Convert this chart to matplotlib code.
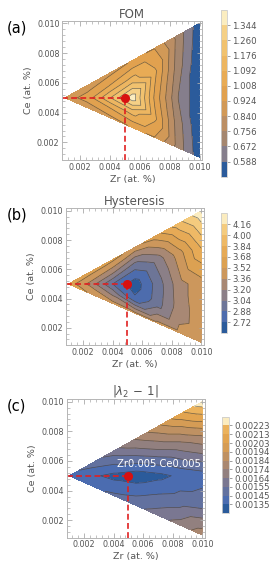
import numpy as np
import matplotlib
matplotlib.use("Agg")
import matplotlib.pyplot as plt
import matplotlib.tri as mtri
from matplotlib.colors import ListedColormap, BoundaryNorm
from matplotlib.ticker import MultipleLocator, FormatStrFormatter

# node compositions (Zr, Ce): tip + 6 columns of 5 rows (top, mid-top, centre, mid-bottom, bottom)
zr_nodes = [0.001] + [0.0025] * 5 + [0.004] * 5 + [0.0055] * 5 + [0.007] * 5 + [0.0085] * 5 + [0.010] * 5
ce_nodes = [0.005,
            0.005833, 0.005417, 0.005, 0.004667, 0.004333,
            0.006667, 0.005833, 0.005, 0.004333, 0.003667,
            0.0075, 0.00625, 0.005, 0.004, 0.003,
            0.008333, 0.006667, 0.005, 0.003667, 0.002333,
            0.009167, 0.007083, 0.005, 0.003333, 0.001667,
            0.010, 0.0075, 0.005, 0.003, 0.001]

fom = [0.88,
       0.89, 0.92, 0.96, 0.92, 0.89,
       0.90, 1.01, 1.17, 1.01, 0.90,
       0.93, 1.12, 1.40, 1.12, 0.93,
       0.92, 1.03, 0.99, 1.03, 0.92,
       0.73, 0.72, 0.68, 0.72, 0.73,
       0.53, 0.51, 0.51, 0.51, 0.53]

hyst = [3.62,
        3.58, 3.45, 3.30, 3.42, 3.50,
        3.56, 3.25, 2.88, 3.15, 3.42,
        3.47, 2.95, 2.63, 2.75, 3.40,
        3.62, 3.10, 2.94, 2.96, 3.40,
        3.95, 3.45, 3.30, 3.28, 3.40,
        4.30, 3.85, 3.45, 3.45, 3.46]

lam = [0.00141,
       0.00150, 0.00143, 0.00137, 0.00139, 0.00142,
       0.00160, 0.00146, 0.00132, 0.00139, 0.00147,
       0.00175, 0.00153, 0.00129, 0.00141, 0.00152,
       0.00192, 0.00162, 0.00132, 0.00146, 0.00160,
       0.00210, 0.00170, 0.00137, 0.00150, 0.00168,
       0.00230, 0.00180, 0.00140, 0.00152, 0.00180]

fom_levels = [0.504, 0.588, 0.672, 0.756, 0.840, 0.924, 1.008, 1.092, 1.176, 1.260, 1.344, 1.428]
hyst_levels = [2.56, 2.72, 2.88, 3.04, 3.20, 3.36, 3.52, 3.68, 3.84, 4.00, 4.16, 4.32]
lam_levels = [0.00125, 0.00135, 0.00145, 0.00155, 0.00164, 0.00174, 0.00184,
              0.00194, 0.00203, 0.00213, 0.00223, 0.00233]

titles = ["FOM", "Hysteresis", r"$|\lambda_2\,-\,1|$"]
tags = ["(a)", "(b)", "(c)"]
best = (0.005, 0.005)

band_colors = [
    ["#2b5b9b", "#857e8c", "#a4866f", "#bb8e64", "#d19957", "#e1a14f",
     "#e8ab55", "#edb661", "#f1c26f", "#f5d086", "#fbedc0"],
    ["#2b5b9b", "#4d6cad", "#6d7597", "#8b7f87", "#a88874", "#cc975c",
     "#dca152", "#e6aa56", "#eeb966", "#f4cb7e", "#fbecbf"],
    ["#2b5b9b", "#4b6cb0", "#62719f", "#7a7791", "#92807f", "#a98770",
     "#bf9162", "#d59c55", "#e2a450", "#ebb25c", "#fbecc0"],
]

# triangles: fan at the tip, then quads split symmetric about the centre line
triangles = [[0, 1 + r, 2 + r] for r in range(4)]
for c in range(5):
    for r in range(4):
        a, b = 1 + 5 * c + r, 1 + 5 * c + r + 1
        a2, b2 = a + 5, b + 5
        if r < 2:
            triangles += [[a, b, a2], [b, b2, a2]]
        else:
            triangles += [[a, b, b2], [a, b2, a2]]
tri = mtri.Triangulation(zr_nodes, ce_nodes, triangles)

fig = plt.figure(figsize=(2.74, 5.71), dpi=100)
ax_pos = [[0.2274, 0.7198, 0.511, 0.2440],
          [0.2398, 0.3958, 0.5047, 0.2394],
          [0.2434, 0.0583, 0.5047, 0.2429]]
cb_pos = [[0.8055, 0.6905, 0.0241, 0.2919],
          [0.8055, 0.4163, 0.0241, 0.2102],
          [0.8091, 0.1011, 0.0277, 0.1692]]
grey = "#555555"

for i, (vals, lev) in enumerate([(fom, fom_levels), (hyst, hyst_levels), (lam, lam_levels)]):
    ax = fig.add_axes(ax_pos[i])
    cmap = ListedColormap(band_colors[i])
    norm = BoundaryNorm(lev, cmap.N)
    cs = ax.tricontourf(tri, vals, levels=lev, cmap=cmap, norm=norm)
    ax.tricontour(tri, vals, levels=lev[1:-1], colors="#3a3a3a", linewidths=0.5, alpha=0.7)
    ax.plot([0.00082, best[0]], [best[1], best[1]], color="#e02020", lw=1.2, dashes=(3.5, 2))
    ax.plot([best[0], best[0]], [0.00082, best[1]], color="#e02020", lw=1.2, dashes=(3.5, 2))
    ax.plot(best[0], best[1], "o", color="#d81010", ms=5.5)
    ax.set_xlim(0.00082, 0.01018)
    ax.set_ylim(0.00082, 0.01018)
    ax.xaxis.set_major_locator(MultipleLocator(0.002))
    ax.yaxis.set_major_locator(MultipleLocator(0.002))
    ax.xaxis.set_minor_locator(MultipleLocator(0.0004))
    ax.yaxis.set_minor_locator(MultipleLocator(0.0004))
    ax.xaxis.set_major_formatter(FormatStrFormatter("%.3f"))
    ax.yaxis.set_major_formatter(FormatStrFormatter("%.3f"))
    ax.tick_params(which="both", direction="in", colors="#aaaaaa", labelcolor=grey,
                   labelsize=5.8, top=True, right=True, pad=2)
    ax.tick_params(which="major", length=3.5, width=0.6)
    ax.tick_params(which="minor", length=2, width=0.5)
    for s in ax.spines.values():
        s.set_color("#b5b5b5")
        s.set_linewidth(0.7)
    ax.set_xlabel("Zr (at. %)", fontsize=6.8, color=grey, labelpad=2)
    ax.set_ylabel("Ce (at. %)", fontsize=6.8, color=grey, labelpad=3)
    ax.set_title(titles[i], fontsize=8.5, color=grey, pad=2)
    fig.text(0.025, ax_pos[i][1] + ax_pos[i][3] - 0.02, tags[i], fontsize=10.5, color="black")

    cax = fig.add_axes(cb_pos[i])
    cb = fig.colorbar(cs, cax=cax, ticks=lev[1:-1])
    cb.ax.minorticks_off()
    if i == 0:
        cb.ax.set_yticklabels(["%.3f" % v for v in lev[1:-1]])
    elif i == 1:
        cb.ax.set_yticklabels(["%.2f" % v for v in lev[1:-1]])
    else:
        cb.ax.set_yticklabels(["%.5f" % v for v in lev[1:-1]])
    cb.outline.set_edgecolor("#cccccc")
    cb.outline.set_linewidth(0.6)
    cb.ax.tick_params(labelsize=6.2, colors="#777777", labelcolor=grey, length=2.5, width=0.5, pad=1)

    if i == 2:
        ax.text(0.00705, 0.0058, "Zr0.005 Ce0.005", color="white", fontsize=7.2,
                ha="center", va="center")

fig.savefig("out.png", dpi=100)
